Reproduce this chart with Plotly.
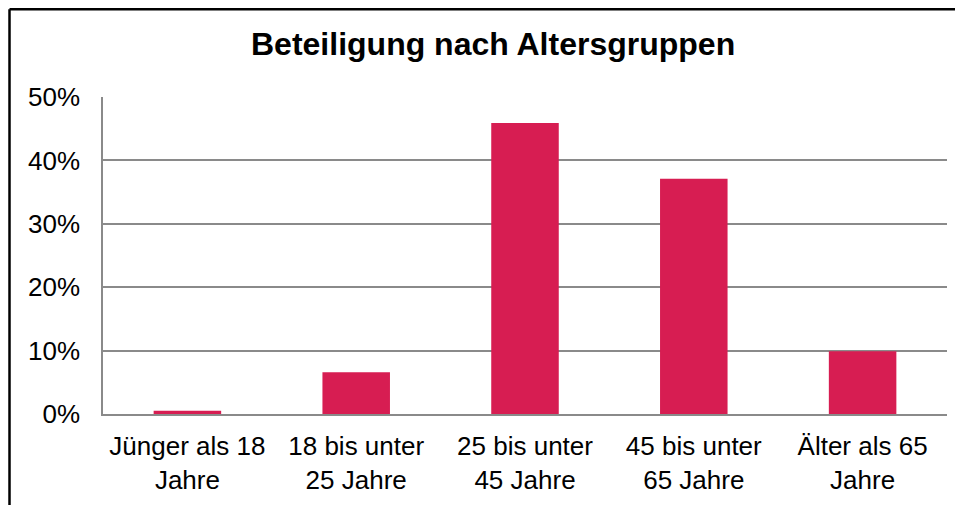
import plotly.graph_objects as go

categories = ["Jünger als 18<br>Jahre", "18 bis unter<br>25 Jahre", "25 bis unter<br>45 Jahre",
              "45 bis unter<br>65 Jahre", "Älter als 65<br>Jahre"]
values = [0.005, 0.066, 0.459, 0.371, 0.099]
tick_vals = [0, 0.1, 0.2, 0.3, 0.4, 0.5]
tick_text = ["0%", "10%", "20%", "30%", "40%", "50%"]
title_text = "Beteiligung nach Altersgruppen"

# The page body has an 8px margin: figure coordinates = page coordinates - 8.
OFF = 8
W, H = 963 - OFF, 505 - OFF
plot_left, plot_right, plot_top, plot_bottom = 103, 947, 97, 414
L = plot_left - OFF
R = W - (plot_right - OFF)
T = plot_top - OFF
B = H - (plot_bottom - OFF)
pw, ph = W - L - R, H - T - B

def px_x(x):
    return (x - OFF - L) / pw

def px_y(y):
    return (H - B - (y - OFF)) / ph

FONT = "Liberation Sans, Arial, sans-serif"
GRID = "#8a8a8a"

fig = go.Figure(go.Bar(x=categories, y=values, marker=dict(color="#D71D52", line=dict(width=0)),
                       width=0.4))

fig.update_layout(
    width=W, height=H,
    margin=dict(l=L, r=R, t=T, b=B, pad=0, autoexpand=False),
    paper_bgcolor="white", plot_bgcolor="white",
    font=dict(family=FONT, size=26, color="black"),
    showlegend=False,
    bargap=0.6,
)
fig.update_yaxes(range=[0, 0.5001], tickvals=tick_vals, ticktext=tick_text,
                 showgrid=True, gridcolor=GRID, gridwidth=1.5,
                 showline=True, linecolor=GRID, linewidth=1.5,
                 zeroline=False, ticks="", ticklabelstandoff=16, automargin=False,
                 tickfont=dict(family=FONT, size=26, color="black"))
fig.update_xaxes(showline=True, linecolor=GRID, linewidth=1.5, showgrid=False,
                 ticks="", ticklabelstandoff=8, automargin=False,
                 tickfont=dict(family=FONT, size=26, color="black"))

fig.add_annotation(text="<b>" + title_text + "</b>", xref="paper", yref="paper",
                   x=px_x(493), y=px_y(44), xanchor="center", yanchor="middle",
                   showarrow=False, font=dict(family=FONT, size=32, color="black"))

# chart-area border (cropped on the right and bottom in the original)
border = dict(color="black", width=2.5)
fig.add_shape(type="line", xref="paper", yref="paper",
              x0=px_x(9.5), x1=px_x(1100), y0=px_y(9.2), y1=px_y(9.2),
              line=border, layer="above")
fig.add_shape(type="line", xref="paper", yref="paper",
              x0=px_x(9.5), x1=px_x(9.5), y0=px_y(9.2), y1=px_y(600),
              line=border, layer="above")

fig.write_html("out.html")
